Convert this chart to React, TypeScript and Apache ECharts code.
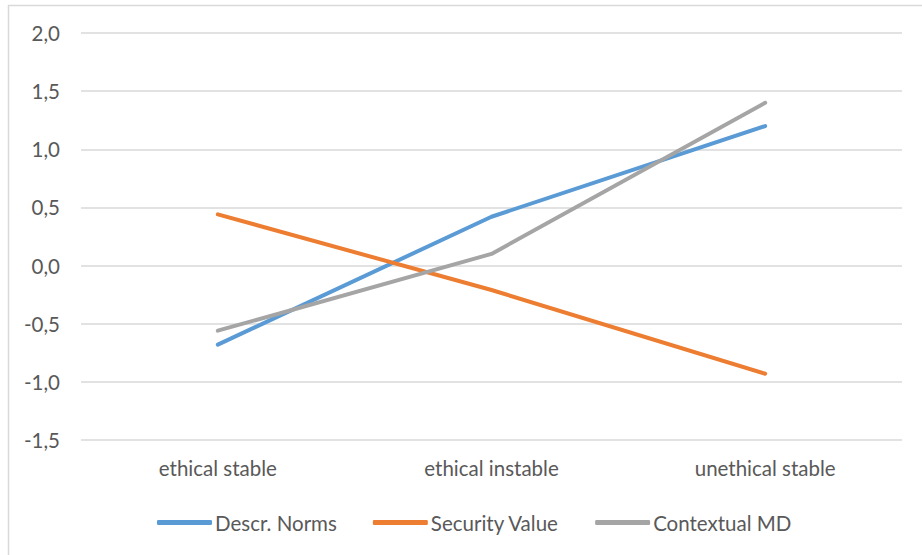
import React, { useEffect, useRef } from "react";
import * as echarts from "echarts";

const categories = ["ethical stable", "ethical instable", "unethical stable"];
const descrNorms = [-0.68, 0.42, 1.2];
const securityValue = [0.44, -0.21, -0.93];
const contextualMD = [-0.56, 0.1, 1.4];

const FONT = "Lato";
const TEXT = "#595959";

export default function App() {
  const ref = useRef<HTMLDivElement>(null);

  useEffect(() => {
    if (!ref.current) return;
    const chart = echarts.init(ref.current, undefined, { renderer: "svg" });
    const line = (name: string, data: number[], color: string) => ({
      name,
      type: "line",
      data,
      symbol: "none",
      lineStyle: { color, width: 4, cap: "round", join: "round" },
      itemStyle: { color },
    });
    chart.setOption({
      animation: false,
      backgroundColor: "#ffffff",
      textStyle: { fontFamily: FONT, color: TEXT },
      graphic: [
        {
          type: "rect",
          shape: { x: 8.5, y: 5.5, width: 940, height: 600 },
          style: { fill: "none", stroke: "#d9d9d9", lineWidth: 1.5 },
          silent: true,
        },
      ],
      grid: { left: 81, right: 20, top: 33, bottom: 115, containLabel: false },
      xAxis: {
        type: "category",
        data: categories,
        boundaryGap: true,
        axisLine: { show: false },
        axisTick: { show: false },
        axisLabel: { fontFamily: FONT, fontSize: 20.5, color: TEXT, margin: 17 },
      },
      yAxis: {
        type: "value",
        min: -1.5,
        max: 2,
        interval: 0.5,
        axisLine: { show: false },
        axisTick: { show: false },
        splitLine: { lineStyle: { color: "#d9d9d9", width: 1.5 } },
        axisLabel: {
          fontFamily: FONT,
          fontSize: 20.5,
          color: TEXT,
          margin: 21,
          formatter: (v: number) => v.toFixed(1).replace(".", ","),
        },
      },
      legend: {
        left: 152,
        top: 507,
        icon: "roundRect",
        itemWidth: 55,
        itemHeight: 5,
        itemGap: 36,
        textStyle: { fontFamily: FONT, fontSize: 20.5, color: TEXT, padding: [0, 0, 0, -2] },
        data: ["Descr. Norms", "Security Value", "Contextual MD"],
      },
      series: [
        line("Descr. Norms", descrNorms, "#5B9BD5"),
        line("Security Value", securityValue, "#ED7D31"),
        line("Contextual MD", contextualMD, "#A5A5A5"),
      ],
    });
    return () => chart.dispose();
  }, []);

  return (
    <div
      ref={ref}
      style={{ position: "absolute", left: 0, top: 0, width: 922, height: 555 }}
    />
  );
}
